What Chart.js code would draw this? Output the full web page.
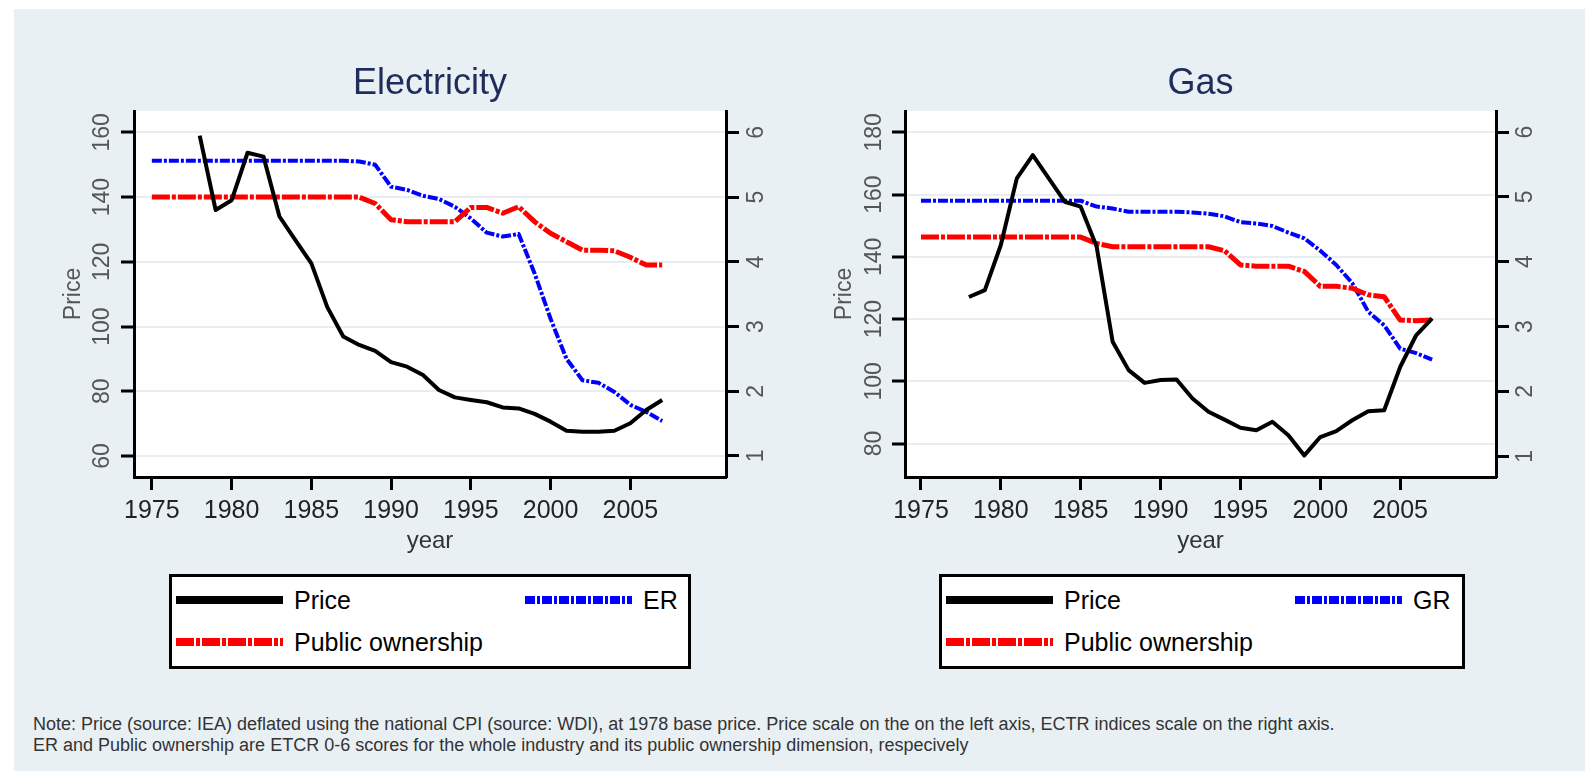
<!DOCTYPE html>
<html>
<head>
<meta charset="utf-8">
<script src="https://cdn.jsdelivr.net/npm/chart.js@4.4.0/dist/chart.umd.min.js"></script>
<style>
html, body { margin: 0; padding: 0; background: #fff; overflow: hidden; }
#bg { position: absolute; left: 14px; top: 9px; width: 1571px; height: 762px; background: #e9f0f3; }
canvas { position: absolute; top: 0; }
.legend { position: absolute; top: 574px; height: 95px; box-sizing: border-box; border: 3px solid #000; background: #fff;
  padding: 2px 0 0 4px; display: grid; grid-template-columns: 349px 1fr; grid-auto-rows: 42px;
  font-family: "Liberation Sans", Arial, sans-serif; font-size: 25px; color: #000; }
.legend .item { display: flex; align-items: center; }
.legend svg { margin-right: 11px; }
#note { position: absolute; left: 33px; top: 714px; font-family: "Liberation Sans", Arial, sans-serif; font-size: 18px; line-height: 21px; color: #333; white-space: nowrap; }
</style>
</head>
<body>
<div id="bg"></div>
<canvas id="elec" width="800" height="560" style="left:0px"></canvas>
<canvas id="gas" width="800" height="560" style="left:780px"></canvas>
<div class="legend" id="elecLegend" style="left:169px;width:522px"></div>
<div class="legend" id="gasLegend" style="left:939px;width:526px"></div>
<div id="note">Note: Price (source: IEA) deflated using the national CPI (source: WDI), at 1978 base price. Price scale on the on the left axis, ECTR indices scale on the right axis.<br>ER and Public ownership are ETCR 0-6 scores for the whole industry and its public ownership dimension, respecively</div>
<script>
Chart.defaults.font.family = "'Liberation Sans', Arial, sans-serif";

var years = [1975, 1976, 1977, 1978, 1979, 1980, 1981, 1982, 1983, 1984, 1985, 1986, 1987, 1988, 1989, 1990,
  1991, 1992, 1993, 1994, 1995, 1996, 1997, 1998, 1999, 2000, 2001, 2002, 2003, 2004, 2005, 2006, 2007];
var yearTicks = [1975, 1980, 1985, 1990, 1995, 2000, 2005];

// Electricity
var elecPrice = [null, null, null, 159, 136, 139, 153.7, 152.5, 134, 126.7, 119.5, 106, 96.9, 94.3, 92.5, 89,
  87.6, 85, 80.4, 78.1, 77.3, 76.6, 75, 74.7, 73, 70.6, 67.8, 67.5, 67.5, 67.8, 70.1, 74.2, 77.3];
var elecPublic = [5, 5, 5, 5, 5, 5, 5, 5, 5, 5, 5, 5, 5, 5, 4.9, 4.65,
  4.62, 4.62, 4.62, 4.62, 4.84, 4.84, 4.75, 4.85, 4.62, 4.44, 4.31, 4.18, 4.18, 4.17, 4.07, 3.95, 3.95];
var elecER = [5.56, 5.56, 5.56, 5.56, 5.56, 5.56, 5.56, 5.56, 5.56, 5.56, 5.56, 5.56, 5.56, 5.55, 5.5, 5.16,
  5.11, 5.02, 4.97, 4.85, 4.67, 4.45, 4.39, 4.43, 3.82, 3.12, 2.5, 2.17, 2.13, 1.99, 1.79, 1.68, 1.54];
var elecPriceTicks = [60, 80, 100, 120, 140, 160];

// Gas
var gasPrice = [null, null, null, 127.1, 129.3, 143.8, 165.2, 172.7, 165.2, 157.7, 156.1, 143.2, 112.7, 103.6, 99.5, 100.4,
  100.6, 94.5, 90.2, 87.7, 85.1, 84.3, 87, 82.7, 76.2, 82.1, 84, 87.5, 90.4, 90.7, 104.6, 114.8, 120.2];
var gasPublic = [4.38, 4.38, 4.38, 4.38, 4.38, 4.38, 4.38, 4.38, 4.38, 4.38, 4.38, 4.28, 4.23, 4.23, 4.23, 4.23,
  4.23, 4.23, 4.23, 4.17, 3.95, 3.93, 3.93, 3.93, 3.85, 3.62, 3.62, 3.59, 3.49, 3.46, 3.1, 3.09, 3.1];
var gasGR = [4.94, 4.94, 4.94, 4.94, 4.94, 4.94, 4.94, 4.94, 4.94, 4.94, 4.94, 4.85, 4.82, 4.77, 4.77, 4.77,
  4.77, 4.76, 4.74, 4.7, 4.61, 4.59, 4.55, 4.45, 4.36, 4.17, 3.95, 3.67, 3.23, 3.02, 2.66, 2.59, 2.49];
var gasPriceTicks = [80, 100, 120, 140, 160, 180];

var indexTicks = [1, 2, 3, 4, 5, 6];

function pts(vals) {
  return years.map((yr, i) => ({ x: yr, y: vals[i] }));
}

// white plot background
var plotBg = {
  id: 'plotBg',
  beforeDraw(chart) {
    var a = chart.chartArea, ctx = chart.ctx;
    ctx.save();
    ctx.fillStyle = '#fff';
    ctx.fillRect(a.left, a.top, a.right - a.left, a.bottom - a.top);
    ctx.restore();
  }
};

// y tick labels are rotated in the original
var rotatedTicks = {
  id: 'rotatedTicks',
  afterDraw(chart, args, opts) {
    var ctx = chart.ctx;
    ['y', 'y1'].forEach(id => {
      var s = chart.scales[id];
      var off = opts[id];
      ctx.save();
      ctx.font = '23px "Liberation Sans", Arial, sans-serif';
      ctx.fillStyle = '#555';
      ctx.textAlign = 'center';
      ctx.textBaseline = 'middle';
      s.ticks.forEach(t => {
        var py = s.getPixelForValue(t.value);
        var px = s.position === 'left' ? s.right - off : s.left + off;
        ctx.save();
        ctx.translate(px, py);
        ctx.rotate(-Math.PI / 2);
        ctx.fillText(String(t.value), 0, 0);
        ctx.restore();
      });
      ctx.restore();
    });
  }
};

function makeChart(id, title, price, pub, idx, idxLabel, cfg) {
  var datasets = [
    { label: 'Price', data: pts(price), yAxisID: 'y', borderColor: '#000', borderWidth: 4 },
    { label: 'Public ownership', data: pts(pub), yAxisID: 'y1', borderColor: '#ff0000', borderWidth: 5, borderDash: [18, 2, 4, 2] },
    { label: idxLabel, data: pts(idx), yAxisID: 'y1', borderColor: '#0000ff', borderWidth: 4, borderDash: [10, 2, 3, 2] }
  ];
  datasets.forEach(d => { d.pointRadius = 0; d.tension = 0; d.fill = false; d.borderJoinStyle = 'round'; });

  var chart = new Chart(document.getElementById(id), {
    type: 'line',
    data: { datasets: datasets },
    options: {
      responsive: false,
      animation: false,
      layout: { padding: 0 },
      plugins: {
        legend: { display: false },
        tooltip: { enabled: false },
        title: {
          display: true, text: title, fullSize: false, color: '#1f2d5c',
          font: { size: 36, weight: 'normal' }, padding: { top: 62, bottom: 5.8 }
        },
        rotatedTicks: { y: cfg.leftLabelOff, y1: cfg.rightLabelOff }
      },
      scales: {
        x: {
          type: 'linear', position: 'bottom', min: cfg.xMin, max: cfg.xMax,
          afterBuildTicks: s => { s.ticks = yearTicks.map(v => ({ value: v })); },
          afterFit: s => { s.height = 83; },
          ticks: { color: '#222', font: { size: 25 }, padding: 6, callback: v => String(v) },
          grid: { display: true, drawOnChartArea: false, drawTicks: true, tickLength: 13, tickColor: '#000', tickWidth: 3 },
          border: { color: '#000', width: 3 },
          title: { display: true, text: 'year', color: '#333', font: { size: 24 }, padding: { top: 0, bottom: 4 } }
        },
        y: {
          type: 'linear', position: 'left', min: cfg.yMin, max: cfg.yMax,
          afterBuildTicks: s => { s.ticks = cfg.priceTicks.map(v => ({ value: v })); },
          afterFit: s => { s.width = cfg.leftW; },
          ticks: { display: false },
          grid: { color: '#e6eef1', lineWidth: 2, tickLength: 13, tickColor: '#000', tickWidth: 3 },
          border: { color: '#000', width: 3 },
          title: { display: true, text: 'Price', color: '#555', font: { size: 23 }, padding: { top: cfg.priceTitlePad, bottom: 0 } }
        },
        y1: {
          type: 'linear', position: 'right', min: cfg.rMin, max: cfg.rMax,
          afterBuildTicks: s => { s.ticks = indexTicks.map(v => ({ value: v })); },
          afterFit: s => { s.width = cfg.rightW; },
          ticks: { display: false },
          grid: { drawOnChartArea: false, tickLength: 13, tickColor: '#000', tickWidth: 3 },
          border: { color: '#000', width: 3 }
        }
      }
    },
    plugins: [plotBg, rotatedTicks]
  });
  return chart;
}

function buildLegend(chart, boxId) {
  var ds = chart.data.datasets;
  var order = [0, 2, 1];
  var box = document.getElementById(boxId);
  order.forEach(i => {
    var d = ds[i];
    var item = document.createElement('div');
    item.className = 'item';
    var dash = d.borderDash ? d.borderDash.join(' ') : 'none';
    item.innerHTML = '<svg width="107" height="10"><line x1="0" y1="5" x2="107" y2="5" stroke="' + d.borderColor +
      '" stroke-width="8" stroke-dasharray="' + dash + '"/></svg><span>' + d.label + '</span>';
    box.appendChild(item);
  });
}

var elecChart = makeChart('elec', 'Electricity', elecPrice, elecPublic, elecER, 'ER', {
  xMin: 1973.88, xMax: 2011, yMin: 53.5, yMax: 166.6, rMin: 0.675, rMax: 6.33,
  priceTicks: elecPriceTicks, leftW: 134, rightW: 74, priceTitlePad: 60,
  leftLabelOff: 31, rightLabelOff: 31
});
var gasChart = makeChart('gas', 'Gas', gasPrice, gasPublic, gasGR, 'GR', {
  xMin: 1974.0, xMax: 2011, yMin: 69.26, yMax: 186.85, rMin: 0.68, rMax: 6.324,
  priceTicks: gasPriceTicks, leftW: 125, rightW: 84, priceTitlePad: 51,
  leftLabelOff: 30, rightLabelOff: 30
});
buildLegend(elecChart, 'elecLegend');
buildLegend(gasChart, 'gasLegend');
</script>
</body>
</html>
